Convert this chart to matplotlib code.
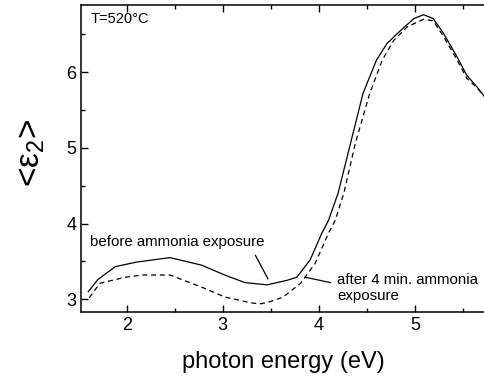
import matplotlib
matplotlib.use("Agg")
import matplotlib.pyplot as plt

plt.rcParams['font.family'] = ['Liberation Sans', 'DejaVu Sans']
plt.rcParams['mathtext.fontset'] = 'custom'
plt.rcParams['mathtext.rm'] = 'Liberation Sans'

# before ammonia exposure (solid)
e_before = [1.60, 1.70, 1.88, 2.10, 2.45, 2.78, 3.02, 3.23, 3.46, 3.60, 3.67, 3.77,
            3.91, 4.03, 4.10, 4.20, 4.33, 4.46, 4.60, 4.71, 4.85, 4.99, 5.09, 5.19,
            5.30, 5.44, 5.54, 5.65, 5.73]
eps_before = [3.10, 3.26, 3.43, 3.49, 3.55, 3.45, 3.32, 3.22, 3.19, 3.23, 3.25, 3.29,
              3.52, 3.87, 4.04, 4.40, 5.06, 5.72, 6.16, 6.38, 6.55, 6.71, 6.76, 6.71,
              6.51, 6.20, 5.96, 5.80, 5.67]

# after 4 min. ammonia exposure (dashed)
e_after = [1.61, 1.72, 1.98, 2.16, 2.45, 2.78, 3.02, 3.30, 3.40, 3.50, 3.63, 3.81,
           3.96, 4.10, 4.17, 4.26, 4.38, 4.53, 4.66, 4.78, 4.92, 5.09, 5.19, 5.30,
           5.44, 5.54, 5.65, 5.73]
eps_after = [3.02, 3.21, 3.29, 3.32, 3.32, 3.16, 3.03, 2.95, 2.94, 2.97, 3.03, 3.21,
             3.47, 3.87, 4.04, 4.40, 5.06, 5.72, 6.16, 6.42, 6.60, 6.70, 6.68, 6.47,
             6.16, 5.92, 5.79, 5.67]

fig = plt.figure(figsize=(4.85, 3.76), dpi=100)
ax = fig.add_axes([0.167, 0.170, 0.833, 0.817])

ax.plot(e_before, eps_before, color='black', lw=0.9)
ax.plot(e_after, eps_after, color='black', lw=0.9, ls=(0, (4, 3)))

ax.set_xlim(1.524, 5.73)
ax.set_ylim(2.83, 6.89)
ax.set_xticks([2, 3, 4, 5])
ax.set_xticks([2.5, 3.5, 4.5, 5.5], minor=True)
ax.set_yticks([3, 4, 5, 6])
ax.set_yticks([3.5, 4.5, 5.5, 6.5], minor=True)
ax.tick_params(which='both', direction='in', top=True, labelsize=13, width=1)
ax.tick_params(which='major', length=5)
ax.tick_params(which='minor', length=3)
ax.spines['right'].set_visible(False)
for s in ['left', 'bottom', 'top']:
    ax.spines[s].set_linewidth(1.1)

ax.set_xlabel('photon energy (eV)', fontsize=17, labelpad=12)
ax.set_ylabel(r'<ε$_\mathregular{2}$>', fontsize=24)
ax.yaxis.set_label_coords(-0.085, 0.52)

ax.text(1.62, 6.70, 'T=520°C', fontsize=10.5, va='center', ha='left')
ax.text(1.62, 3.76, 'before ammonia exposure', fontsize=10.8, va='center', ha='left')
ax.text(4.19, 3.15, 'after 4 min. ammonia\nexposure', fontsize=10.8, va='center',
        ha='left', linespacing=1.2)
ax.plot([3.34, 3.47], [3.58, 3.27], color='black', lw=0.9)
ax.plot([3.86, 4.12], [3.29, 3.22], color='black', lw=0.9)

fig.savefig('out.png', dpi=100)
